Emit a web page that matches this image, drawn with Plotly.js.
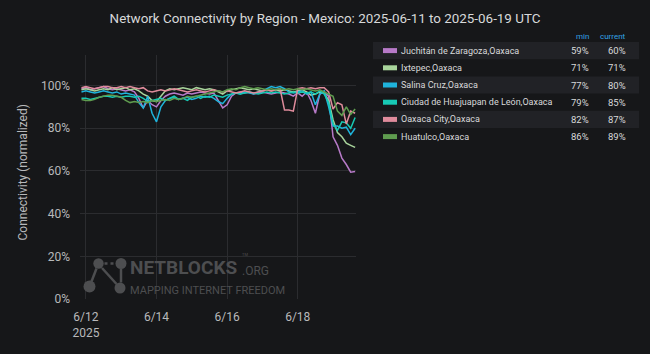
<!DOCTYPE html>
<html>
<head>
<meta charset="utf-8">
<script src="https://cdn.plot.ly/plotly-3.0.1.min.js"></script>
<style>html,body{margin:0;padding:0;background:#161719;}#chart{width:650px;height:354px;}</style>
</head>
<body>
<div id="chart"></div>
<script>
// ---- data (values in %) ----
const startTime = '2025-06-11 21:00';   // first sample
const stepHours = 3;                    // sampling interval

const regions = [
  'Juchitán de Zaragoza,Oaxaca',
  'Ixtepec,Oaxaca',
  'Salina Cruz,Oaxaca',
  'Ciudad de Huajuapan de León,Oaxaca',
  'Oaxaca City,Oaxaca',
  'Huatulco,Oaxaca'
];
const colors = ['#b77ac8', '#a8d49b', '#1fb4dc', '#17c9b4', '#e08c9c', '#5f9c4f'];
const minLabels = ['59%', '71%', '77%', '79%', '82%', '86%'];
const currentLabels = ['60%', '71%', '80%', '85%', '87%', '89%'];

const juchitan = [98.5,99,98,98.5,99,99.5,98.5,98,98.5,98,97.5,98,97,
  94,89.5,93,91,90,93,95,96,96.5,96,95.5,96.5,96,96.5,97,96.5,96,96.5,93,89.5,91,95,96.5,97,96.5,97,96,96.5,97,96.5,96,96.5,97,96.5,96,95,96.5,95,97,93,87,96,97,95,76,72,66,63,59.4,59.7];
const ixtepec = [98,98.5,98,97.5,98,98.5,98,99,98,98.5,99,98,98.5,
  97.5,96,95,93,92.5,95,97.5,98.5,98,98.5,99,98.5,98,99,98.5,98,98.5,98,97,96,97.5,98,98.5,99,98.5,98,98.5,98,97.5,98,97.5,98,97.5,98,97.5,97,97.5,98,97,95.5,96,97,96.5,93,84,78,76,73,72,71];
const salinaCruz = [97,97.5,97,96.5,97,97.5,97,96.5,97,96,96.5,96,95.5,
  92,89.5,95,87,83,90,93,94,94.5,93.5,94,94.5,93.5,94,95,94.5,95,94,92.5,91.5,94,96,96.5,96,97,96.5,96,97,97.5,98.5,99.5,99,99.5,98.5,97,96.5,97,97.5,96,97,91,96,97.5,90,81,81,80,80.5,77,80];
const huajuapan = [94,94,93.5,94,94.5,95,95,94.5,95,94.5,95,95,94.5,
  95,94,92.5,93,93.5,94,93,94,95,93.5,94,93,94.5,95,94,95,94.5,95.5,95,94.5,95.5,96,96.5,96,96.5,97,96.5,96,96.5,97,96.5,97,96.5,96,96.5,97,96.5,97,96.5,97,96,97.5,96,92,82,79,83,82.5,80,85];
const oaxacaCity = [99,99.5,99,98.5,99,99.5,99.5,99,99,99.5,99,99.5,99,
  98.5,99,97.5,97,97.5,98,97.5,98,98.5,98,97.5,97,97.5,98,97.5,97,97.5,98,97.5,97,97.5,97,96.5,97,97.5,97,96.5,97,97.5,98,97.5,98,98.5,88.5,88.5,88,98.5,99,98.5,99,98.5,99,99,97,89,92,91,82,88,87];
const huatulco = [93.5,93,93,93.5,94.5,95,95.5,95.5,95,94.5,93,92,92.5,
  92,92.5,92,93,92.5,93,93.5,93,94,93.5,94,95,94.5,95,95.5,96,96.5,97,97.5,97,98,98.5,98,99,99.5,99,98.5,99,98.5,98,98.5,98,98.5,98,98.5,98,98.5,98,98.5,98,97.5,98,97,96,95,88,86,90,86.5,89];
const seriesValues = [juchitan, ixtepec, salinaCruz, huajuapan, oaxacaCity, huatulco];

const tickDates = ['2025-06-12', '2025-06-14', '2025-06-16', '2025-06-18'];
const tickTexts = ['6/12<br>2025', '6/14', '6/16', '6/18'];
const yTickVals = [0, 20, 40, 60, 80, 100];
const yTickTexts = ['0%', '20%', '40%', '60%', '80%', '100%'];

// ---- build time axis ----
function buildTimes(n) {
  const [d, t] = startTime.split(' ');
  const [Y, Mo, D] = d.split('-').map(Number);
  const [h, m] = t.split(':').map(Number);
  const base = Date.UTC(Y, Mo - 1, D, h, m);
  const out = [];
  for (let i = 0; i < n; i++) {
    out.push(new Date(base + i * stepHours * 3600000).toISOString().slice(0, 16).replace('T', ' '));
  }
  return out;
}

// ---- layout geometry (pixels) ----
const W = 650, H = 354;
const M = {l: 80, r: 294, t: 55, b: 55};
const PW = W - M.l - M.r, PH = H - M.t - M.b;
const px = p => (p - M.l) / PW;
const py = p => (H - M.b - p) / PH;

const FONT = 'Roboto, "Open Sans", sans-serif';

const traces = seriesValues.map((vals, k) => ({
  type: 'scatter', mode: 'lines',
  x: buildTimes(vals.length), y: vals,
  name: regions[k],
  line: {color: colors[k], width: 1.5},
  hoverinfo: 'skip'
}));

const shapes = [];
const annotations = [];

// legend table
const rowTop = 42, rowH = 17.2;
regions.forEach((name, k) => {
  const top = rowTop + k * rowH, mid = top + rowH / 2;
  if (k % 2 === 0) {
    shapes.push({type: 'rect', xref: 'paper', yref: 'paper', layer: 'below',
      x0: px(373), x1: px(639), y0: py(top), y1: py(top + rowH),
      fillcolor: '#212226', line: {width: 0}});
  }
  shapes.push({type: 'rect', xref: 'paper', yref: 'paper',
    x0: px(383), x1: px(397), y0: py(mid - 2.5), y1: py(mid + 2.5),
    fillcolor: colors[k], line: {width: 0}});
  annotations.push({xref: 'paper', yref: 'paper', x: px(398.5), y: py(mid), xanchor: 'left', yanchor: 'middle',
    text: name, showarrow: false, font: {family: FONT, size: 9, color: '#d8d9da'}});
  annotations.push({xref: 'paper', yref: 'paper', x: px(591), y: py(mid), xanchor: 'right', yanchor: 'middle',
    text: minLabels[k], showarrow: false, font: {family: FONT, size: 9.5, color: '#d8d9da'}});
  annotations.push({xref: 'paper', yref: 'paper', x: px(628), y: py(mid), xanchor: 'right', yanchor: 'middle',
    text: currentLabels[k], showarrow: false, font: {family: FONT, size: 9.5, color: '#d8d9da'}});
});
annotations.push({xref: 'paper', yref: 'paper', x: px(591), y: py(36.5), xanchor: 'right', yanchor: 'middle',
  text: 'min', showarrow: false, font: {family: FONT, size: 8, color: '#33a2e5'}});
annotations.push({xref: 'paper', yref: 'paper', x: px(628), y: py(36.5), xanchor: 'right', yanchor: 'middle',
  text: 'current', showarrow: false, font: {family: FONT, size: 8, color: '#33a2e5'}});

// y axis title
annotations.push({xref: 'paper', yref: 'paper', x: px(22), y: py(172.5), xanchor: 'center', yanchor: 'middle',
  textangle: -90, text: 'Connectivity (normalized)', showarrow: false, font: {family: FONT, size: 12, color: '#b8b9bb'}});

// watermark logo
const wm = '#4d4e50';
const nodes = [[98.5, 263.5, 5.2], [121, 263.5, 5.5], [89.5, 286.5, 6], [120, 288, 5.5]];
nodes.forEach(([cx, cy, r]) => shapes.push({type: 'circle', xref: 'paper', yref: 'paper',
  x0: px(cx - r), x1: px(cx + r), y0: py(cy + r), y1: py(cy - r), fillcolor: wm, line: {width: 0}}));
[[104.5, 263.5, 115, 263.5, 'dot'], [96.5, 268.5, 91.5, 281.5, 'solid'], [102, 268, 116.5, 284, 'solid'], [121, 269, 121, 282.5, 'solid']]
  .forEach(([x0, y0, x1, y1, d]) => shapes.push({type: 'line', xref: 'paper', yref: 'paper',
    x0: px(x0), x1: px(x1), y0: py(y0), y1: py(y1), line: {color: wm, width: 2.5, dash: d}}));
annotations.push({xref: 'paper', yref: 'paper', x: px(129), y: py(267), xanchor: 'left', yanchor: 'middle',
  text: '<b>NETBLOCKS</b>', showarrow: false, borderpad: 0, font: {family: FONT, size: 19, color: wm}});
annotations.push({xref: 'paper', yref: 'paper', x: px(241), y: py(270.5), xanchor: 'left', yanchor: 'middle',
  text: '.ORG', showarrow: false, borderpad: 0, font: {family: FONT, size: 12, color: wm}});
annotations.push({xref: 'paper', yref: 'paper', x: px(241), y: py(254), xanchor: 'left', yanchor: 'middle',
  text: 'TM', showarrow: false, borderpad: 0, font: {family: FONT, size: 4, color: wm}});
annotations.push({xref: 'paper', yref: 'paper', x: px(129), y: py(290), xanchor: 'left', yanchor: 'middle',
  text: 'MAPPING INTERNET FREEDOM', showarrow: false, borderpad: 0, font: {family: FONT, size: 11, color: wm}});

const layout = {
  width: W, height: H,
  margin: M,
  paper_bgcolor: '#161719', plot_bgcolor: '#161719',
  font: {family: FONT, color: '#b8b9bb', size: 12},
  showlegend: false,
  title: {text: 'Network Connectivity by Region - Mexico: 2025-06-11 to 2025-06-19 UTC',
    font: {family: FONT, size: 13.4, color: '#d8d9da'},
    xref: 'container', x: 0.5, xanchor: 'center', yref: 'container', y: 1 - 18 / H, yanchor: 'middle'},
  xaxis: {
    type: 'date', range: ['2025-06-11 20:00', '2025-06-19 15:36'],
    tickmode: 'array', tickvals: tickDates, ticktext: tickTexts,
    showgrid: true, gridcolor: '#2b2c2f', gridwidth: 1, zeroline: false, showline: false,
    ticks: '', ticklabelstandoff: 9, tickfont: {size: 12, color: '#b8b9bb'}
  },
  yaxis: {
    range: [0, 114.3], tickmode: 'array', tickvals: yTickVals, ticktext: yTickTexts,
    showgrid: true, gridcolor: '#2b2c2f', gridwidth: 1, zeroline: false, showline: false,
    ticks: '', ticklabelstandoff: 9, tickfont: {size: 12, color: '#b8b9bb'}
  },
  shapes: shapes,
  annotations: annotations
};

Plotly.newPlot('chart', traces, layout, {displayModeBar: false, staticPlot: true});
</script>
</body>
</html>
